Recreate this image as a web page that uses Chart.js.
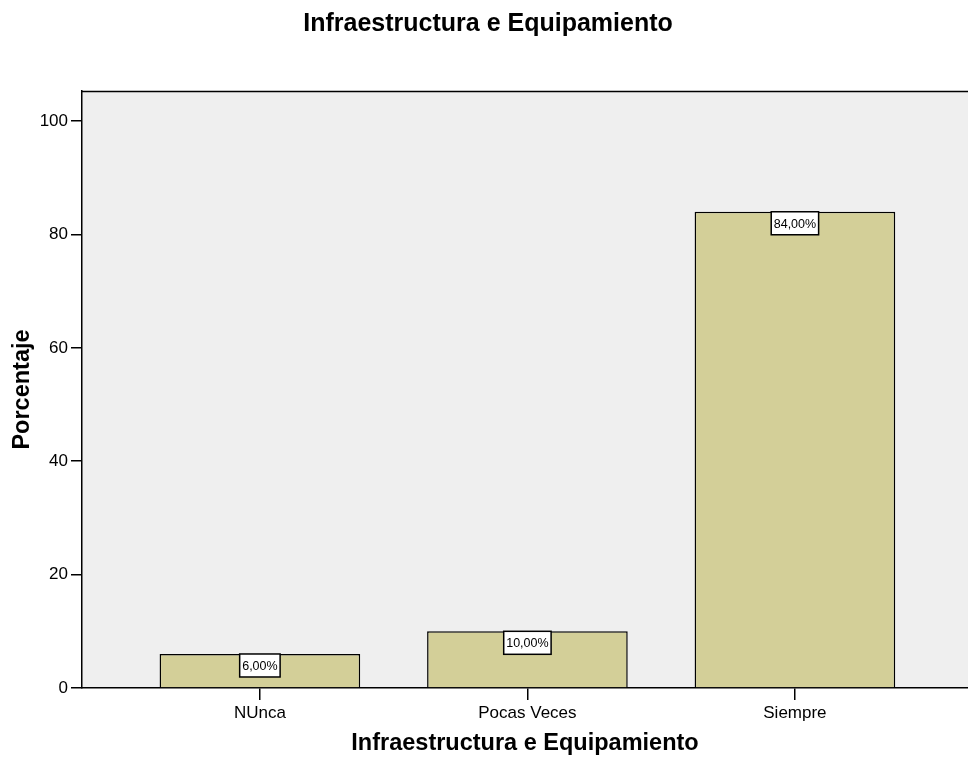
<!DOCTYPE html>
<html><head><meta charset="utf-8">
<script src="https://cdn.jsdelivr.net/npm/chart.js@4/dist/chart.umd.min.js"></script>
<style>html,body{margin:0;padding:0;background:#fff}#wrap{width:968px;height:758px}</style>
</head><body><div id="wrap"><canvas id="c" width="968" height="758"></canvas></div>
<script>
const categories = ['NUnca', 'Pocas Veces', 'Siempre'];
const percentages = [6, 10, 84];
const yTicks = [0, 20, 40, 60, 80, 100];
const chartTitle = 'Infraestructura e Equipamiento';
const xTitle = 'Infraestructura e Equipamiento';
const yTitle = 'Porcentaje';

const FONT = '"Liberation Sans", Arial, sans-serif';

const plotBg = {
  id: 'plotBg',
  beforeDraw(chart) {
    const {ctx, chartArea: a} = chart;
    ctx.save();
    ctx.fillStyle = '#efefef';
    ctx.fillRect(a.left, a.top, a.right - a.left, a.bottom - a.top);
    ctx.strokeStyle = '#000';
    ctx.lineWidth = 1.5;
    ctx.beginPath();
    ctx.moveTo(a.left, a.top + 0.5);
    ctx.lineTo(a.right, a.top + 0.5);
    ctx.stroke();
    ctx.restore();
  }
};

const valueBoxes = {
  id: 'valueBoxes',
  afterDatasetsDraw(chart) {
    const {ctx} = chart;
    const meta = chart.getDatasetMeta(0);
    ctx.save();
    ctx.font = '12.5px ' + FONT;
    ctx.textAlign = 'center';
    ctx.textBaseline = 'middle';
    meta.data.forEach((bar, i) => {
      const txt = percentages[i].toFixed(2).replace('.', ',') + '%';
      const w = ctx.measureText(txt).width + 5;
      const h = 23;
      const x = bar.x - w / 2;
      const y = bar.y;
      ctx.fillStyle = '#fff';
      ctx.fillRect(x, y, w, h);
      ctx.strokeStyle = '#000';
      ctx.lineWidth = 1.5;
      ctx.strokeRect(x, y, w, h);
      ctx.fillStyle = '#000';
      ctx.fillText(txt, bar.x, y + h / 2 + 1);
    });
    ctx.restore();
  }
};

new Chart(document.getElementById('c'), {
  type: 'bar',
  data: {
    datasets: [{
      data: categories.map((c, i) => ({x: i, y: percentages[i]})),
      backgroundColor: '#d3cf98',
      borderColor: '#000',
      borderWidth: 1.5,
      borderSkipped: 'bottom',
      categoryPercentage: 0.75,
      barPercentage: 1
    }]
  },
  options: {
    responsive: false,
    animation: false,
    layout: {padding: {left: 8, right: 0, top: 0, bottom: 0}},
    plugins: {
      legend: {display: false},
      tooltip: {enabled: false},
      title: {
        display: true, text: chartTitle, color: '#000',
        font: {family: FONT, size: 25, weight: 'bold'},
        padding: {top: 9, bottom: 52}
      }
    },
    scales: {
      x: {
        type: 'linear',
        offset: false,
        min: -0.665, max: 2.647,
        afterBuildTicks(s) { s.ticks = categories.map((c, i) => ({value: i})); },
        afterFit(s) { s.height = 70; },
        ticks: {
          autoSkip: false, maxRotation: 0, color: '#000', padding: 3,
          font: {family: FONT, size: 17},
          callback: v => categories[v] ?? ''
        },
        grid: {offset: false, drawOnChartArea: false, drawTicks: true, tickLength: 12, color: '#000', lineWidth: 1.5},
        border: {display: true, color: '#000', width: 1.5},
        title: {display: true, text: xTitle, color: '#000', font: {family: FONT, size: 23.5, weight: 'bold'}, padding: {top: 0, bottom: 0}}
      },
      y: {
        min: 0, max: 105.3,
        afterBuildTicks(s) { s.ticks = yTicks.map(v => ({value: v})); },
        afterFit(s) { s.width = 74; },
        ticks: {color: '#000', padding: 3, font: {family: FONT, size: 17}},
        grid: {drawOnChartArea: false, drawTicks: true, tickLength: 11, color: '#000', lineWidth: 1.5},
        border: {display: true, color: '#000', width: 1.5},
        title: {display: true, text: yTitle, color: '#000', font: {family: FONT, size: 23.5, weight: 'bold'}, padding: {top: 0, bottom: 6}}
      }
    }
  },
  plugins: [plotBg, valueBoxes]
});
</script></body></html>
